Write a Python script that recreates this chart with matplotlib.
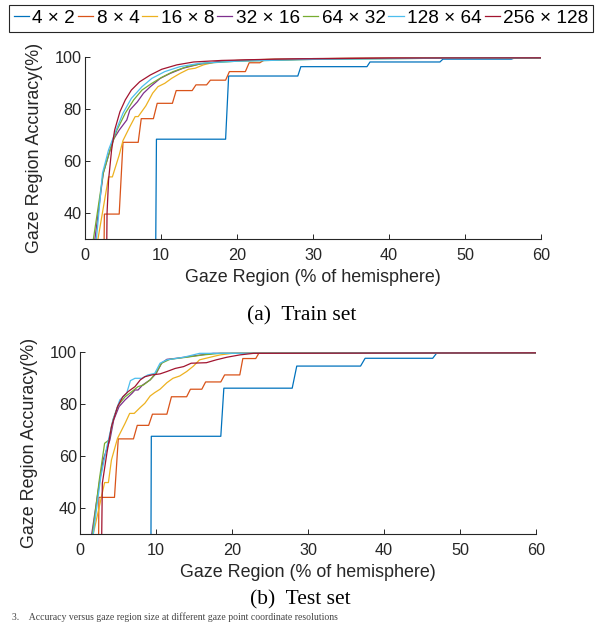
import matplotlib
matplotlib.use("Agg")
import matplotlib.pyplot as plt

plt.rcParams['font.family'] = ['Liberation Sans', 'DejaVu Sans']

labels = ["4 × 2", "8 × 4", "16 × 8", "32 × 16", "64 × 32", "128 × 64", "256 × 128"]
colors = ["#0072BD", "#D95319", "#EDB120", "#7E2F8E", "#77AC30", "#4DBEEE", "#A2142F"]
x_ticks = [0, 10, 20, 30, 40, 50, 60]
y_ticks = [40, 60, 80, 100]

# ---- (a) train set ----
train_4x2_x = [9.3, 9.4, 18.5, 18.9, 28.0, 28.4, 37.1, 37.5, 46.7, 47.1, 56.1, 56.5, 60]
train_4x2_y = [25, 68.5, 68.5, 92.8, 92.8, 96.4, 96.4, 98.2, 98.2, 99.3, 99.3, 99.7, 99.7]
train_8x4_x = [2.5, 2.55, 4.5, 5.0, 7.0, 7.4, 9.0, 9.5, 11.5, 12.0, 14.1, 14.6, 16.0, 16.5,
               18.5, 19.0, 21.1, 21.6, 23.0, 23.5, 28, 30, 40, 60]
train_8x4_y = [25, 39.7, 39.7, 67.3, 67.3, 76.4, 76.4, 82.3, 82.3, 87.2, 87.2, 89.4, 89.4, 91.2,
               91.2, 94.5, 94.5, 97.9, 97.9, 98.8, 99.2, 99.5, 99.7, 99.8]
train_16x8_x = [1.7, 3.1, 3.6, 4.5, 5.0, 5.9, 6.6, 7.0, 8.0, 8.9, 9.6, 10.5, 11.4, 12.5,
                13.6, 14.5, 15.6, 17.3, 20, 25, 35, 50, 60]
train_16x8_y = [30, 54.0, 54.0, 62.4, 68.0, 73.3, 77.2, 77.2, 81.3, 86.2, 88.7, 90.0, 91.9, 93.8,
                95.4, 95.8, 97.1, 98.3, 98.8, 99.3, 99.6, 99.8, 99.8]
train_32x16_x = [1.3, 2.4, 3.7, 4.5, 5.5, 5.9, 6.9, 7.7, 8.6, 9.9, 11.2, 12.9, 15.1, 18, 22, 30, 45, 60]
train_32x16_y = [30, 55.4, 68.2, 72.0, 75.9, 79.7, 82.9, 86.2, 88.7, 91.9, 93.8, 95.8, 97.4, 98.5,
                 99.0, 99.5, 99.7, 99.8]
train_64x32_x = [1.1, 2.4, 3.3, 4.2, 5.3, 6.4, 7.5, 8.8, 10.1, 11.6, 13.4, 15.6, 20, 30, 45, 60]
train_64x32_y = [30, 55.4, 64.4, 72.0, 78.5, 83.6, 87.4, 90.0, 92.3, 94.5, 96.4, 97.7, 98.5, 99.2, 99.6, 99.8]
train_128x64_x = [1.5, 2.3, 3.1, 4.1, 5.0, 6.1, 7.5, 8.8, 10.5, 12.5, 15.1, 20, 30, 45, 60]
train_128x64_y = [30, 55.4, 64.4, 72.0, 78.5, 84.2, 88.7, 91.9, 94.5, 96.4, 97.7, 98.5, 99.2, 99.6, 99.8]
train_256x128_x = [2.85, 2.9, 3.1, 3.5, 3.9, 4.6, 5.3, 6.1, 7.2, 8.6, 10.1, 12.1, 14.3, 18, 25, 40, 60]
train_256x128_y = [25, 40, 52.8, 64.4, 72.0, 79.1, 83.6, 87.4, 90.6, 93.2, 95.4, 97.1, 98.2, 98.8,
                   99.3, 99.7, 99.8]

# ---- (b) test set ----
test_4x2_x = [9.3, 9.35, 18.5, 18.9, 27.9, 28.5, 36.9, 37.5, 46.4, 46.9, 60]
test_4x2_y = [25, 67.7, 67.7, 86.2, 86.2, 94.7, 94.7, 97.7, 97.7, 99.6, 99.6]
test_8x4_x = [2.4, 2.45, 4.5, 5.0, 7.0, 7.5, 9.0, 9.5, 11.4, 12.0, 14.0, 14.5, 16.0, 16.5,
              18.5, 19.0, 21.0, 21.4, 23.1, 23.5, 60]
test_8x4_y = [25, 44.2, 44.2, 66.7, 66.7, 71.9, 71.9, 76.2, 76.2, 82.9, 82.9, 85.8, 85.8, 88.6,
              88.6, 91.3, 91.3, 97.6, 97.6, 99.6, 99.6]
test_16x8_x = [1.7, 3.2, 3.7, 4.1, 4.9, 5.9, 6.5, 7.1, 7.9, 8.5, 9.2, 9.8, 10.5, 11.4, 12.2,
               13.1, 14.0, 14.9, 15.7, 17.1, 18.4, 20, 30, 60]
test_16x8_y = [30, 49.9, 49.9, 58.6, 66.9, 72.7, 76.5, 76.5, 78.8, 80.4, 83.2, 84.5, 85.8, 88.3, 90.0,
               90.9, 92.6, 94.7, 97.1, 98.1, 99.0, 99.6, 99.8, 99.8]
test_32x16_x = [1.5, 2.5, 3.0, 3.9, 4.4, 5.1, 5.9, 6.8, 7.2, 7.6, 8.2, 9.2, 10.0, 10.7, 11.4,
                12.7, 14.9, 17.5, 60]
test_32x16_y = [30, 49.6, 58.6, 66.3, 74.0, 79.1, 81.7, 84.2, 85.5, 85.5, 87.4, 89.4, 91.9, 95.8, 97.3,
                97.7, 98.6, 99.6, 99.8]
test_64x32_x = [1.6, 2.5, 3.2, 3.8, 4.3, 5.0, 5.9, 6.8, 7.6, 8.3, 9.2, 10.0, 10.7, 11.8, 14.0,
                16.2, 18.4, 60]
test_64x32_y = [30, 50.9, 65.0, 66.3, 74.0, 79.7, 82.9, 84.9, 86.8, 87.4, 89.4, 92.2, 95.8, 97.3, 98.1,
                99.0, 99.6, 99.8]
test_128x64_x = [1.7, 2.7, 3.5, 4.3, 5.2, 6.1, 6.6, 7.2, 8.1, 8.9, 9.8, 10.5, 11.4, 13.6, 15.7, 60]
test_128x64_y = [30, 52.2, 63.7, 74.0, 81.7, 84.2, 89.1, 90.0, 90.0, 91.3, 91.9, 95.8, 97.1, 98.1,
                 99.6, 99.8]
test_256x128_x = [2.8, 2.9, 3.5, 4.1, 4.9, 5.6, 6.3, 7.2, 7.9, 8.5, 9.4, 10.5, 11.4, 12.5, 13.6,
                  14.6, 16.6, 17.9, 19.3, 21.0, 22.8, 60]
test_256x128_y = [25, 49.6, 61.2, 71.4, 79.1, 82.9, 84.9, 86.8, 89.4, 90.6, 91.3, 91.7, 92.6, 93.8, 94.5,
                  95.8, 96.0, 97.1, 98.1, 99.0, 99.6, 99.8]

train_series = [(train_4x2_x, train_4x2_y), (train_8x4_x, train_8x4_y), (train_16x8_x, train_16x8_y),
                (train_32x16_x, train_32x16_y), (train_64x32_x, train_64x32_y),
                (train_128x64_x, train_128x64_y), (train_256x128_x, train_256x128_y)]
test_series = [(test_4x2_x, test_4x2_y), (test_8x4_x, test_8x4_y), (test_16x8_x, test_16x8_y),
               (test_32x16_x, test_32x16_y), (test_64x32_x, test_64x32_y),
               (test_128x64_x, test_128x64_y), (test_256x128_x, test_256x128_y)]

DARK = "#262626"
W, H = 602, 623


def draw_panel(ax, series):
    for (xs, ys), lab, c in zip(series, labels, colors):
        ax.plot(xs, ys, color=c, lw=0.9, label=lab)
    ax.set_xlim(0, 60)
    ax.set_ylim(30, 100)
    ax.set_xticks(x_ticks)
    ax.set_yticks(y_ticks)
    for s in ["top", "right"]:
        ax.spines[s].set_visible(False)
    for s in ["left", "bottom"]:
        ax.spines[s].set_color(DARK)
        ax.spines[s].set_linewidth(0.8)
    ax.tick_params(direction="in", length=3.3, width=0.7, colors=DARK, labelsize=11.7)
    ax.tick_params(axis="x", pad=6.5)
    ax.tick_params(axis="y", pad=2.4)
    ax.set_xlabel("Gaze Region (% of hemisphere)", fontsize=12.9, color=DARK)
    ax.set_ylabel("Gaze Region Accuracy(%)", fontsize=12.9, color=DARK)
    ax.xaxis.set_label_coords(0.5, -0.165)
    ax.yaxis.set_label_coords(-0.092, 0.5)


fig = plt.figure(figsize=(W / 100, H / 100), dpi=100)
ax1 = fig.add_axes([85 / W, 1 - 239.3 / H, 456 / W, 182 / H])
ax2 = fig.add_axes([80.3 / W, 1 - 534.3 / H, 455.7 / W, 182 / H])
draw_panel(ax1, train_series)
draw_panel(ax2, test_series)

handles, labs = ax1.get_legend_handles_labels()
leg = fig.legend(handles, labs, ncol=7, loc="upper left", bbox_to_anchor=(9 / W, 1 - 5 / H),
                 fontsize=13.7, handlelength=0.8, handletextpad=0.18, columnspacing=0.15,
                 borderpad=0.25, borderaxespad=0, fancybox=False, framealpha=1)
leg.get_frame().set_edgecolor(DARK)
leg.get_frame().set_linewidth(0.8)

fig.text(302 / W, 1 - 306 / H, "(a)  Train set", ha="center", va="top",
         family="Liberation Serif", fontsize=15.5)
fig.text(300 / W, 1 - 590 / H, "(b)  Test set", ha="center", va="top",
         family="Liberation Serif", fontsize=15.5)
fig.text(12 / W, 1 - 622 / H,
         "3.    Accuracy versus gaze region size at different gaze point coordinate resolutions",
         ha="left", va="bottom", family="Liberation Serif", fontsize=7, color="#444444")

fig.savefig("out.png", dpi=100)
